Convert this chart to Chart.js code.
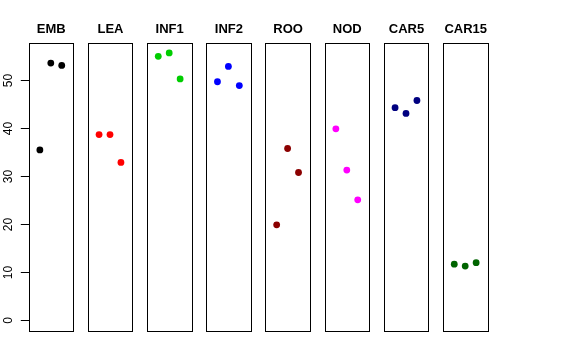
<!DOCTYPE html>
<html><head><meta charset="utf-8">
<script src="https://cdn.jsdelivr.net/npm/chart.js@4"></script>
<style>
html,body{margin:0;padding:0;background:#fff;}
#wrap{position:relative;width:576px;height:360px;}
#wrap canvas{position:absolute;left:0;top:0;}
</style></head>
<body><div id="wrap"></div>
<script>
// Data
const categories = ["EMB","LEA","INF1","INF2","ROO","NOD","CAR5","CAR15"];
const xPositions = [1, 2, 3];
const EMB   = [35.4, 53.5, 53.0];
const LEA   = [38.6, 38.6, 32.8];
const INF1  = [54.9, 55.6, 50.2];
const INF2  = [49.6, 52.8, 48.8];
const ROO   = [19.8, 35.7, 30.7];
const NOD   = [39.8, 31.2, 25.0];
const CAR5  = [44.2, 43.0, 45.7];
const CAR15 = [11.6, 11.2, 11.9];
const yTicks = [0, 10, 20, 30, 40, 50];
const seriesValues = [EMB, LEA, INF1, INF2, ROO, NOD, CAR5, CAR15];
const colors = ["#000000","#ff0000","#00cd00","#0000ff","#8b0000","#ff00ff","#000080","#006400"];

// layout
const W = 576, H = 360;
const panelLeft0 = 28.5, panelStep = 59.2, panelW = 44.6;
const panelTop = 42.5, panelBottom = 330.5;
const yMin = -2.22, yMax = 57.78;

const wrap = document.getElementById('wrap');

const boxPlugin = {
  id: 'box',
  afterDraw(chart, args, opts) {
    const ctx = chart.ctx, a = chart.chartArea;
    ctx.save();
    ctx.strokeStyle = '#000';
    ctx.lineWidth = 1;
    ctx.strokeRect(Math.round(a.left) + 0.5, Math.round(a.top) + 0.5,
                   Math.round(a.right) - Math.round(a.left), Math.round(a.bottom) - Math.round(a.top));
    // title
    ctx.fillStyle = '#000';
    ctx.font = 'bold 13px "Liberation Sans", Arial, sans-serif';
    ctx.textAlign = 'center';
    ctx.textBaseline = 'middle';
    ctx.fillText(opts.title, (a.left + a.right) / 2 + 0.5, 29.5);
    if (opts.axis) {
      const ys = chart.scales.y;
      ctx.font = '12px "Liberation Sans", Arial, sans-serif';
      ctx.lineWidth = 1;
      yTicks.forEach(v => {
        const py = Math.round(ys.getPixelForValue(v)) + 0.5;
        ctx.beginPath();
        ctx.moveTo(Math.round(a.left) + 0.5, py);
        ctx.lineTo(a.left - 7.7, py);
        ctx.stroke();
        ctx.save();
        ctx.translate(9, py);
        ctx.rotate(-Math.PI / 2);
        ctx.textAlign = 'center';
        ctx.textBaseline = 'middle';
        ctx.fillText(String(v), 0, 0);
        ctx.restore();
      });
    }
  }
};

categories.forEach((cat, i) => {
  const c = document.createElement('canvas');
  c.width = W; c.height = H;
  c.style.width = W + 'px'; c.style.height = H + 'px';
  wrap.appendChild(c);
  const left = panelLeft0 + panelStep * i;
  new Chart(c, {
    type: 'scatter',
    data: {
      datasets: [{
        data: xPositions.map((x, k) => ({ x: x, y: seriesValues[i][k] })),
        backgroundColor: colors[i],
        borderColor: colors[i],
        borderWidth: 0,
        pointRadius: 3.4,
        pointHoverRadius: 3.4
      }]
    },
    options: {
      responsive: false,
      animation: false,
      events: [],
      layout: { padding: { left: left, right: W - left - panelW, top: panelTop, bottom: H - panelBottom } },
      scales: {
        x: { type: 'linear', min: -0.04, max: 4.04, display: false },
        y: { type: 'linear', min: yMin, max: yMax, display: false }
      },
      plugins: {
        legend: { display: false },
        tooltip: { enabled: false },
        title: { display: false },
        box: { title: cat, axis: i === 0 }
      }
    },
    plugins: [boxPlugin]
  });
});
</script></body></html>
